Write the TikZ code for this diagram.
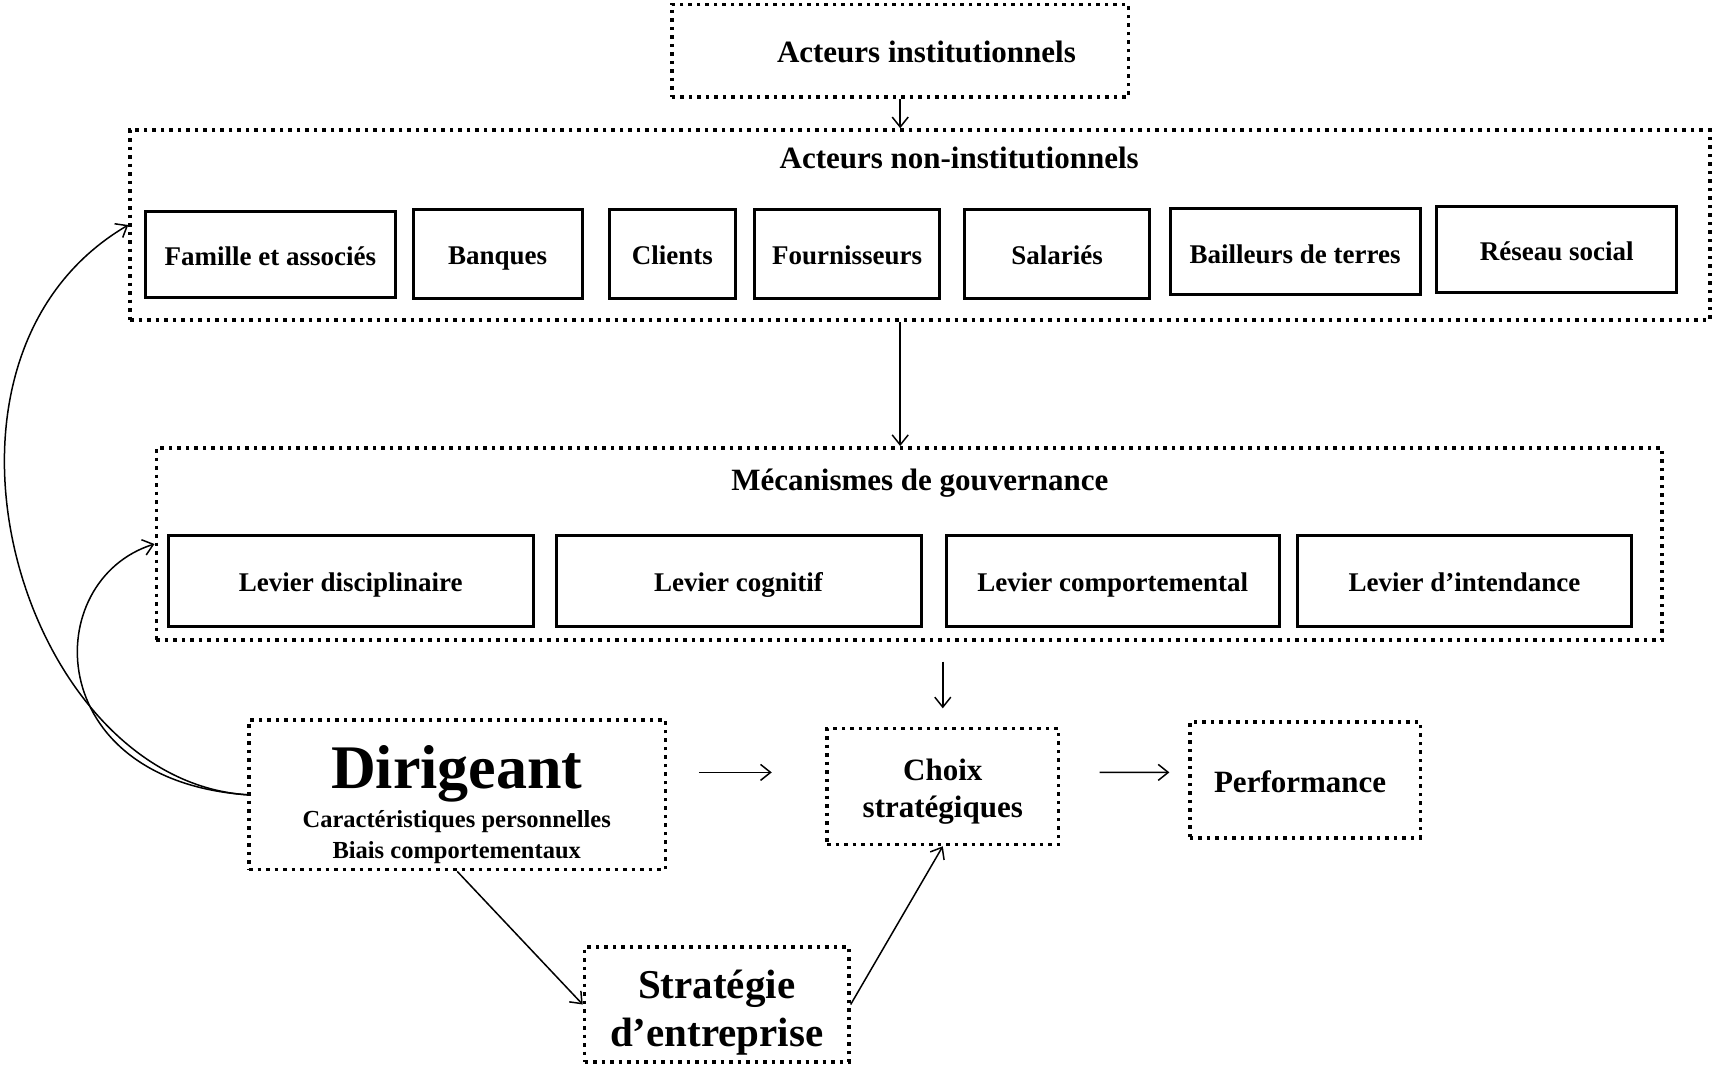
\documentclass[tikz,border=0pt]{standalone}
\usepackage{fontspec}
\setmainfont{Liberation Serif}
\usetikzlibrary{arrows.meta,calc}
\begin{document}
\begin{tikzpicture}[x=1pt,y=-1pt,
  dotbox/.style={draw, line width=3.5pt, dash pattern=on 3.5pt off 5pt, inner sep=0pt},
  solidbox/.style={draw, line width=3pt, inner sep=0pt, font=\fontsize{27}{32}\selectfont\bfseries, text height=22.8pt, text depth=0.5pt},
  hdr/.style={anchor=base, inner sep=0pt, font=\fontsize{31}{37}\selectfont\bfseries},
  sub/.style={anchor=base, inner sep=0pt, font=\fontsize{24.5}{29}\selectfont\bfseries},
  big/.style={anchor=base, inner sep=0pt, font=\fontsize{62}{70}\selectfont\bfseries},
  mid/.style={anchor=base, inner sep=0pt, font=\fontsize{41}{48}\selectfont\bfseries},
  arr/.style={line width=1.5pt, -{Straight Barb[length=10pt,width=16pt]}},
]
\useasboundingbox (0,0) rectangle (1713,1068);

% top box
\node[dotbox, minimum width=456.6pt, minimum height=92.8pt] (inst) at (900.2,50.8) {};
\node[hdr] (instT) at (926.4,62.6) {Acteurs institutionnels};

% non-institutional actors
\node[dotbox, minimum width=1579.7pt, minimum height=190pt] (noninst) at (919.9,225) {};
\node[hdr] (noninstT) at (959.2,168.6) {Acteurs non-institutionnels};
\node[solidbox, minimum width=250pt, minimum height=86pt] (famille) at (270.4,254) {Famille et associés};
\node[solidbox, minimum width=169pt, minimum height=89pt] (banques) at (497.6,253.5) {Banques};
\node[solidbox, minimum width=126pt, minimum height=89pt] (clients) at (672.4,253.5) {Clients};
\node[solidbox, minimum width=185pt, minimum height=89pt] (fourn) at (847.2,253.5) {Fournisseurs};
\node[solidbox, minimum width=185pt, minimum height=89pt] (salaries) at (1057,253.5) {Salariés};
\node[solidbox, minimum width=250pt, minimum height=86pt] (bailleurs) at (1295.1,251.9) {Bailleurs de terres};
\node[solidbox, minimum width=240pt, minimum height=86pt] (reseau) at (1556.8,249.6) {Réseau social};

% governance mechanisms
\node[dotbox, minimum width=1505.5pt, minimum height=192.3pt] (mec) at (909,544) {};
\node[hdr] (mecT) at (919.9,490.9) {Mécanismes de gouvernance};
\node[solidbox, minimum width=364.9pt, minimum height=90.7pt] (lev1) at (350.65,580.7) {Levier disciplinaire};
\node[solidbox, minimum width=364.9pt, minimum height=90.7pt] (lev2) at (738.55,580.7) {Levier cognitif};
\node[solidbox, minimum width=333.2pt, minimum height=90.7pt] (lev3) at (1112.7,580.7) {Levier comportemental};
\node[solidbox, minimum width=333.2pt, minimum height=90.7pt] (lev4) at (1464.5,580.7) {Levier d’intendance};

% Dirigeant
\node[dotbox, minimum width=416.2pt, minimum height=149.6pt] (dir) at (457.2,794.8) {};
\node[big] (dirT) at (456.7,788.5) {Dirigeant};
\node[sub] (dirC) at (456.7,827.5) {Caractéristiques personnelles};
\node[sub] (dirB) at (456.7,858.1) {Biais comportementaux};

% Choix
\node[dotbox, minimum width=231.6pt, minimum height=115.8pt] (choix) at (942.8,786.6) {};
\node[hdr] (choixA) at (942.8,780.4) {Choix};
\node[hdr] (choixB) at (942.8,817.6) {stratégiques};

% Performance
\node[dotbox, minimum width=230.5pt, minimum height=115.8pt] (perf) at (1305,780) {};
\node[hdr] (perfT) at (1300.1,792.4) {Performance};

% Strategie
\node[dotbox, minimum width=264.4pt, minimum height=114.7pt] (strat) at (716.7,1004.5) {};
\node[mid] (stratA) at (716.7,998) {Stratégie};
\node[mid] (stratB) at (716.7,1046) {d’entreprise};

% connectors
\draw[arr] (inst.south) -- (inst.south |- noninst.north);
\draw[arr] (inst.south |- noninst.south) -- (inst.south |- mec.north);
\draw[arr, shorten <=19.7pt, shorten >=18.6pt] (mec.south -| choix.north) -- (choix.north);
\draw[arr, shorten <=31.8pt, shorten >=53.5pt] ($(dir.east)+(0,-22.4)$) -- ($(choix.west)+(0,-14.2)$);
\draw[arr, shorten <=39.3pt, shorten >=18.6pt] ($(choix.east)+(0,-14.2)$) -- ($(perf.west)+(0,-7.6)$);
\draw[arr] (dir.south) -- (strat.west);
\draw[arr] (strat.east) -- (choix.south);
\draw[arr] (dir.west) .. controls (20,780) and (-102,360) .. (noninst.west);
\draw[arr] (dir.west) .. controls (40,780) and (40,580) .. (mec.west);
\end{tikzpicture}
\end{document}
